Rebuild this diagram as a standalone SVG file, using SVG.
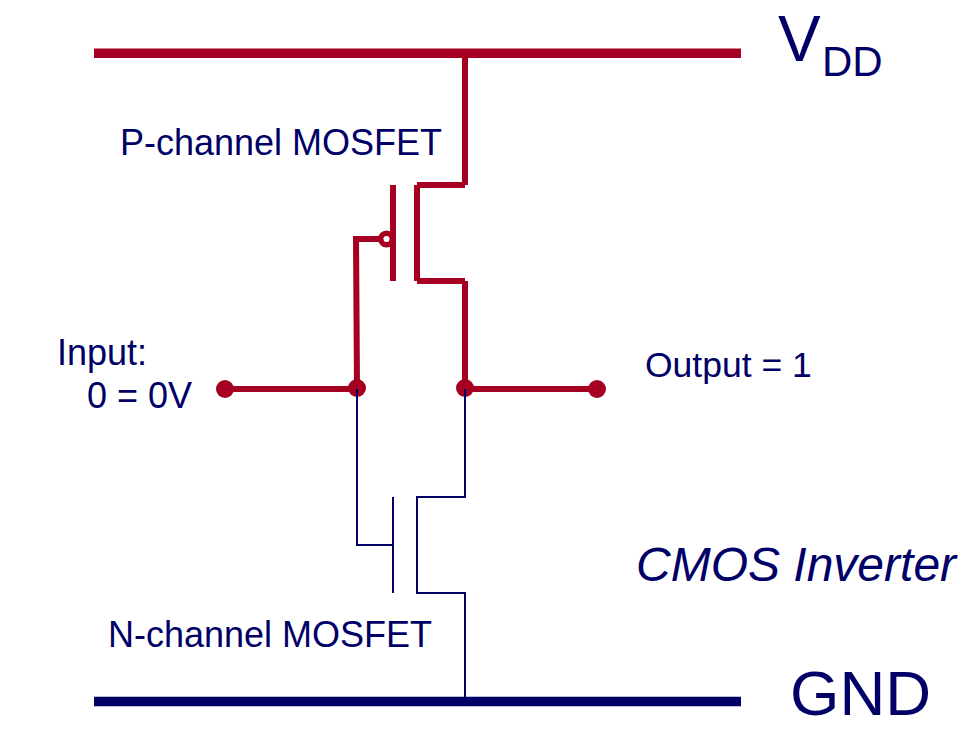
<svg xmlns="http://www.w3.org/2000/svg" width="979" height="730" viewBox="0 0 979 730">
<style>
text{font-family:"Liberation Sans",Arial,sans-serif;fill:#000066}
.l{font-size:36px}
.r{fill:none;stroke:#a50021;stroke-width:6}
.b{fill:none;stroke:#000066;stroke-width:2}
.d{fill:#a50021}
</style>
<rect width="979" height="730" fill="#fff"/>
<g id="red-connectors">
<path class="r" d="M94 53.3H741" style="stroke-width:9.5"/>
<path class="r" d="M465 53V185M417 185H465M417 185V281M417 281H465M465 281V388"/>
<path class="r" d="M393 185V281"/>
<path class="r" d="M356 239H381M357 388L356 236"/>
<path class="r" d="M225 389H357M465 389H597"/>
</g>
<g id="bubble"><circle cx="386.5" cy="239" r="5.8" fill="#fff" stroke="#a50021" stroke-width="5.5"/></g>
<g id="dot-in"><circle class="d" cx="225" cy="389" r="9"/></g>
<g id="dot-g"><circle class="d" cx="357" cy="388" r="9"/></g>
<g id="dot-d"><circle class="d" cx="465" cy="388" r="9"/></g>
<g id="dot-out"><circle class="d" cx="597" cy="389" r="9"/></g>
<g id="blue-connectors">
<path class="b" d="M357 389V545H393M393 497V593"/>
<path class="b" d="M465 389V497H417V593H465V701"/>
<path class="r" d="M94 701.5H741" style="stroke:#000066;stroke-width:9.5"/>
</g>
<g id="labels">
<text x="778" y="61" font-size="64">V</text>
<text x="822" y="75.5" font-size="42">DD</text>
<text x="120" y="155" class="l">P-channel MOSFET</text>
<text x="57" y="364.5" class="l">Input:</text>
<text x="87" y="408" class="l">0 = 0V</text>
<text x="645" y="377" font-size="35.5">Output = 1</text>
<text x="636" y="581" font-size="48" font-style="italic">CMOS Inverter</text>
<text x="108" y="647" class="l">N-channel MOSFET</text>
<text x="790" y="715" font-size="63.5">GND</text>
</g>
</svg>
